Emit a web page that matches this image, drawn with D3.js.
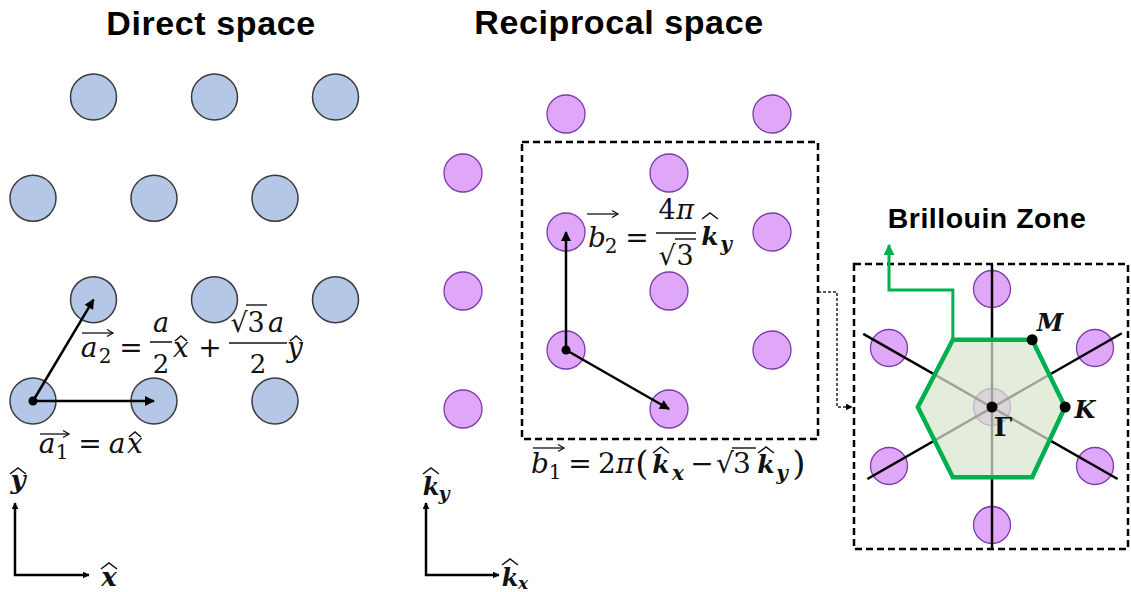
<!DOCTYPE html>
<html>
<head>
<meta charset="utf-8">
<script src="https://cdn.jsdelivr.net/npm/d3@7"></script>
<style>
  body { margin: 0; background: #fff; }
  svg { display: block; }
</style>
</head>
<body>
<svg id="fig" width="1131" height="592"></svg>
<script>
// ---- lattice data -------------------------------------------------------
// Direct (triangular) lattice sites: x in units of a, y as row index
const directSites = [
  [0, 0], [1, 0], [2, 0],
  [0.5, 1], [1.5, 1], [2.5, 1],
  [0, 2], [1, 2], [2, 2],
  [0.5, 3], [1.5, 3], [2.5, 3]
];
const directOrigin = [0, 0];
const a1 = [1, 0];
const a2 = [0.5, 1];

// Reciprocal lattice sites: [column, half-row]
const recipSites = [
  [0, 0], [0, 2], [0, 4],
  [1, 1], [1, 3], [1, 5],
  [2, 0], [2, 2], [2, 4],
  [3, 1], [3, 3], [3, 5]
];
const recipOrigin = [1, 1];
const b1 = [1, -1];
const b2 = [0, 2];

// Brillouin zone panel (same lattice units, centred on Gamma)
const bzSites = [[0, 0], [0, 2], [0, -2], [1, 1], [1, -1], [-1, 1], [-1, -1]];
const bzHexagon = [[0.71, 0], [0.39, 1.14], [-0.38, 1.14], [-0.72, 0], [-0.38, -1.19], [0.39, -1.19]];
const bzLines = [
  [[-1.25, 1.24], [1.22, -1.22]],
  [[-1.21, -1.22], [1.26, 1.25]],
  [[0, 2.42], [0, -2.41]]
];
const bzPoints = [
  { name: "M", at: [0.39, 1.14] },
  { name: "K", at: [0.71, 0] },
  { name: "Γ", at: [0, 0] }
];
const titles = ["Direct space", "Reciprocal space", "Brillouin Zone"];

// ---- colours --------------------------------------------------------------
const blueFill = "#b4c7e7", blueStroke = "#3c3c3c";
const purpleFill = "#e0a7f8", purpleStroke = "#7b3bab";
const green = "#00b050";

const svg = d3.select("#fig");

// ---- scales ---------------------------------------------------------------
const dx = d3.scaleLinear([0, 1], [33, 154]);
const dy = d3.scaleLinear([0, 3], [401, 97]);
const kx = d3.scaleLinear([0, 1], [463, 566]);
const ky = d3.scaleLinear([0, 1], [409, 350]);
const bx = d3.scaleLinear([0, 1], [992, 1095]);
const by = d3.scaleLinear([0, 1], [407, 348]);

// ---- markers --------------------------------------------------------------
const defs = svg.append("defs");
function marker(id, color, len, wid) {
  defs.append("marker")
    .attr("id", id)
    .attr("viewBox", "0 0 10 10")
    .attr("refX", 9).attr("refY", 5)
    .attr("markerUnits", "userSpaceOnUse")
    .attr("markerWidth", len).attr("markerHeight", wid)
    .attr("orient", "auto")
    .append("path").attr("d", "M0,0 L10,5 L0,10 Z").attr("fill", color);
}
marker("head", "#000", 12, 10);
marker("headGreen", green, 11, 11);
marker("headSmall", "#000", 7, 7);

// ---- math text helpers --------------------------------------------------
const MATH = "'DejaVu Serif', 'Liberation Serif', serif";
function glyph(g, s, x, y, o = {}) {
  return g.append("text")
    .attr("x", x).attr("y", y)
    .attr("text-anchor", "middle")
    .style("font-family", MATH)
    .style("font-size", (o.size || 28) + "px")
    .style("font-style", o.it ? "italic" : "normal")
    .style("font-weight", o.b ? "bold" : "normal")
    .attr("fill", "#111")
    .text(s);
}
function hat(g, cx, y, w, h = 5) {
  g.append("path")
    .attr("d", `M${cx - w / 2},${y} L${cx},${y - h} L${cx + w / 2},${y}`)
    .attr("fill", "none").attr("stroke", "#111").attr("stroke-width", 1.5);
}
function bar(g, x1, x2, y, w = 1.5) {
  g.append("line").attr("x1", x1).attr("x2", x2).attr("y1", y).attr("y2", y)
    .attr("stroke", "#111").attr("stroke-width", w);
}
function overArrow(g, x1, x2, y) {
  bar(g, x1, x2, y, 1.3);
  g.append("path")
    .attr("d", `M${x2 - 6},${y - 3.5} L${x2},${y} L${x2 - 6},${y + 3.5}`)
    .attr("fill", "none").attr("stroke", "#111").attr("stroke-width", 1.3);
}

// ---- titles ---------------------------------------------------------------
const TITLE = "'Liberation Sans', Arial, sans-serif";
function title(s, x, y, size, ls) {
  svg.append("text").attr("x", x).attr("y", y).attr("text-anchor", "middle")
    .style("font-family", TITLE).style("font-weight", "bold")
    .style("font-size", size + "px").style("letter-spacing", ls + "px").text(s);
}
title(titles[0], 211, 35, 34, 0.6);
title(titles[1], 619, 34, 34, 0.6);
title(titles[2], 987, 228, 28.5, 0.5);

// ---- direct space -----------------------------------------------------------
const gD = svg.append("g");
gD.selectAll("circle.site").data(directSites).join("circle")
  .attr("class", "site")
  .attr("cx", d => dx(d[0])).attr("cy", d => dy(d[1])).attr("r", 23)
  .attr("fill", blueFill).attr("stroke", blueStroke).attr("stroke-width", 1.5);

gD.selectAll("line.vec").data([a1, a2]).join("line")
  .attr("class", "vec")
  .attr("x1", dx(directOrigin[0])).attr("y1", dy(directOrigin[1]))
  .attr("x2", d => dx(d[0])).attr("y2", d => dy(d[1]))
  .attr("stroke", "#000").attr("stroke-width", 2.5)
  .attr("marker-end", "url(#head)");
gD.append("circle").attr("cx", dx(directOrigin[0])).attr("cy", dy(directOrigin[1]))
  .attr("r", 4.5).attr("fill", "#000");

// a2 = a/2 x + sqrt(3)a/2 y
glyph(gD, "a", 89, 357, { it: true });
glyph(gD, "2", 105, 363, { size: 20 });
overArrow(gD, 82, 113, 333);
glyph(gD, "=", 131, 357);
glyph(gD, "a", 161, 332, { it: true, size: 27 });
bar(gD, 150, 172, 342);
glyph(gD, "2", 161, 373, { size: 26 });
glyph(gD, "x", 181, 357, { it: true });
hat(gD, 181, 341, 12);
glyph(gD, "+", 210, 357);
glyph(gD, "√", 239, 332, { size: 27 });
glyph(gD, "3", 256, 332, { size: 27 });
bar(gD, 246, 267, 305, 1.4);
glyph(gD, "a", 276, 332, { it: true, size: 27 });
bar(gD, 229, 287, 343);
glyph(gD, "2", 258, 373, { size: 26 });
glyph(gD, "y", 295, 357, { it: true });
hat(gD, 296, 341, 12);

// a1 = a x
glyph(gD, "a", 47, 453, { it: true });
glyph(gD, "1", 62, 459, { size: 20 });
overArrow(gD, 40, 69, 434);
glyph(gD, "=", 90, 453);
glyph(gD, "a", 117, 453, { it: true });
glyph(gD, "x", 135, 453, { it: true });
hat(gD, 135, 437, 12);

// axes
const gDA = svg.append("g");
gDA.append("line").attr("x1", 15).attr("y1", 576).attr("x2", 15).attr("y2", 503)
  .attr("stroke", "#000").attr("stroke-width", 2.5).attr("marker-end", "url(#headSmall)");
gDA.append("line").attr("x1", 14).attr("y1", 575).attr("x2", 89).attr("y2", 575)
  .attr("stroke", "#000").attr("stroke-width", 2.5).attr("marker-end", "url(#headSmall)");
glyph(gDA, "y", 18, 489, { it: true, b: true, size: 26 });
hat(gDA, 18, 474, 16, 6);
glyph(gDA, "x", 109, 586, { it: true, b: true, size: 26 });
hat(gDA, 109, 569, 16, 6);

// ---- reciprocal space -------------------------------------------------------
const gR = svg.append("g");
gR.selectAll("circle.site").data(recipSites).join("circle")
  .attr("class", "site")
  .attr("cx", d => kx(d[0])).attr("cy", d => ky(d[1])).attr("r", 19)
  .attr("fill", purpleFill).attr("stroke", purpleStroke).attr("stroke-width", 1.3);

gR.append("rect").attr("x", 522).attr("y", 142).attr("width", 296).attr("height", 297)
  .attr("fill", "none").attr("stroke", "#000").attr("stroke-width", 2.5)
  .attr("stroke-dasharray", "7,4");

gR.selectAll("line.vec").data([b1, b2]).join("line")
  .attr("class", "vec")
  .attr("x1", kx(recipOrigin[0])).attr("y1", ky(recipOrigin[1]))
  .attr("x2", d => kx(recipOrigin[0] + d[0])).attr("y2", d => ky(recipOrigin[1] + d[1]))
  .attr("stroke", "#000").attr("stroke-width", 2.5)
  .attr("marker-end", "url(#head)");
gR.append("circle").attr("cx", kx(recipOrigin[0])).attr("cy", ky(recipOrigin[1]))
  .attr("r", 4.5).attr("fill", "#000");

// b2 = 4pi/sqrt3 ky
glyph(gR, "b", 597, 247, { it: true });
glyph(gR, "2", 611, 253, { size: 20 });
overArrow(gR, 587, 618, 214);
glyph(gR, "=", 637, 247);
glyph(gR, "4", 667, 219, { size: 27 });
glyph(gR, "π", 685, 219, { size: 27, it: true });
bar(gR, 656, 696, 233);
glyph(gR, "√", 667, 265, { size: 27 });
glyph(gR, "3", 685, 265, { size: 27 });
bar(gR, 675, 696, 239, 1.4);
glyph(gR, "k", 710, 245, { it: true, b: true, size: 25 });
hat(gR, 710, 219, 16, 6);
glyph(gR, "y", 726, 251, { it: true, b: true, size: 20 });

// b1 = 2pi(kx - sqrt3 ky)
glyph(gR, "b", 540, 473, { it: true });
glyph(gR, "1", 555, 479, { size: 20 });
overArrow(gR, 533, 564, 448);
glyph(gR, "=", 580, 473);
glyph(gR, "2", 607, 473);
glyph(gR, "π", 625, 473, { it: true });
glyph(gR, "(", 642, 475, { size: 34 });
glyph(gR, "k", 661, 473, { it: true, b: true, size: 25 });
hat(gR, 661, 453, 16, 6);
glyph(gR, "x", 678, 480, { it: true, b: true, size: 20 });
glyph(gR, "−", 702, 473);
glyph(gR, "√", 725, 473);
glyph(gR, "3", 742, 473);
bar(gR, 732, 756, 448, 1.4);
glyph(gR, "k", 766, 473, { it: true, b: true, size: 25 });
hat(gR, 766, 453, 16, 6);
glyph(gR, "y", 782, 480, { it: true, b: true, size: 20 });
glyph(gR, ")", 799, 475, { size: 34 });

// axes
const gRA = svg.append("g");
gRA.append("line").attr("x1", 426).attr("y1", 576).attr("x2", 426).attr("y2", 503)
  .attr("stroke", "#000").attr("stroke-width", 2.5).attr("marker-end", "url(#headSmall)");
gRA.append("line").attr("x1", 425).attr("y1", 575).attr("x2", 499).attr("y2", 575)
  .attr("stroke", "#000").attr("stroke-width", 2.5).attr("marker-end", "url(#headSmall)");
glyph(gRA, "k", 431, 495, { it: true, b: true, size: 24 });
hat(gRA, 431, 474, 16, 6);
glyph(gRA, "y", 444, 500, { it: true, b: true, size: 19 });
glyph(gRA, "k", 510, 586, { it: true, b: true, size: 24 });
hat(gRA, 510, 565, 16, 6);
glyph(gRA, "x", 523, 589, { it: true, b: true, size: 17 });

// connector from the reciprocal frame to the zone panel
svg.append("path")
  .attr("d", "M818,292 H837 V407 H852")
  .attr("fill", "none").attr("stroke", "#222").attr("stroke-width", 1.5)
  .attr("stroke-dasharray", "3,2").attr("marker-end", "url(#headSmall)");

// ---- Brillouin zone panel --------------------------------------------------
const gB = svg.append("g");
gB.append("rect").attr("x", 854).attr("y", 264).attr("width", 274).attr("height", 285)
  .attr("fill", "none").attr("stroke", "#000").attr("stroke-width", 2.5)
  .attr("stroke-dasharray", "7,4");

gB.selectAll("circle.site").data(bzSites).join("circle")
  .attr("class", "site")
  .attr("cx", d => bx(d[0])).attr("cy", d => by(d[1])).attr("r", 18.5)
  .attr("fill", purpleFill).attr("stroke", purpleStroke).attr("stroke-width", 1.3);

gB.selectAll("line.axis").data(bzLines).join("line")
  .attr("class", "axis")
  .attr("x1", d => bx(d[0][0])).attr("y1", d => by(d[0][1]))
  .attr("x2", d => bx(d[1][0])).attr("y2", d => by(d[1][1]))
  .attr("stroke", "#000").attr("stroke-width", 2.5);

const hexLine = d3.line().x(d => bx(d[0])).y(d => by(d[1])).curve(d3.curveLinearClosed);
gB.append("path").attr("d", hexLine(bzHexagon))
  .attr("fill", "#d9e6cf").attr("fill-opacity", 0.72)
  .attr("stroke", "none");

// pointer from the zone edge up to its caption
const hexTL = bzHexagon[2];
gB.append("path")
  .attr("d", `M${bx(hexTL[0])},${by(hexTL[1]) + 2} V290 H889 V245`)
  .attr("fill", "none").attr("stroke", green).attr("stroke-width", 3)
  .attr("marker-end", "url(#headGreen)");

gB.append("path").attr("d", hexLine(bzHexagon))
  .attr("fill", "none").attr("stroke", green).attr("stroke-width", 4.5)
  .attr("stroke-linejoin", "miter");

gB.selectAll("circle.pt").data(bzPoints).join("circle")
  .attr("class", "pt")
  .attr("cx", d => bx(d.at[0])).attr("cy", d => by(d.at[1])).attr("r", 5.5)
  .attr("fill", "#000");

glyph(gB, "M", 1050, 331, { it: true, b: true, size: 24 });
glyph(gB, "K", 1085, 418, { it: true, b: true, size: 24 });
glyph(gB, "Γ", 1003, 436, { b: true, size: 26 });
</script>
</body>
</html>
